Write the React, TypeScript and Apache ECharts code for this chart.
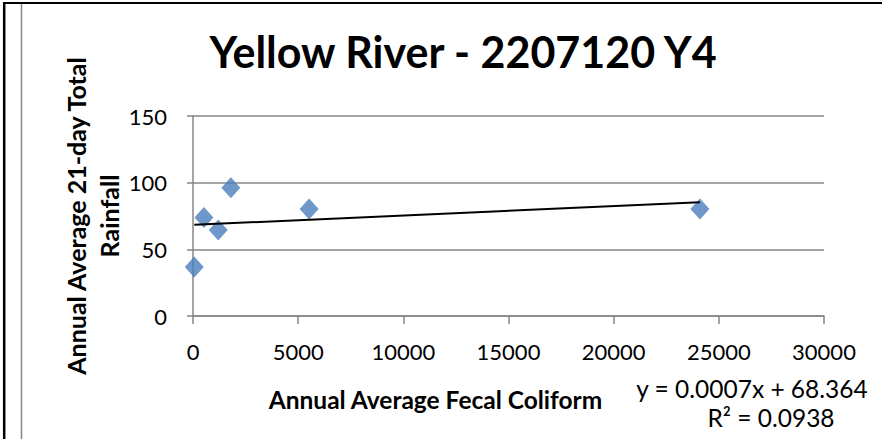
import React, { useEffect, useRef } from "react";
import * as echarts from "echarts";

const titleText = "Yellow River - 2207120 Y4";
const xAxisName = "Annual Average Fecal Coliform";
const yAxisName = "Annual Average 21-day Total\nRainfall";
const fecalColiform = [60, 520, 1200, 1800, 5520, 24100];
const rainfall = [36.7, 73.8, 64.5, 96.2, 80.2, 80.2];
const trendSlope = 0.0007;
const trendIntercept = 68.364;
const equationText = "y = 0.0007x + 68.364";
const r2Text = "R² = 0.0938";

const FONT = "Lato, 'Open Sans', sans-serif";

export default function App() {
  const ref = useRef<HTMLDivElement>(null);
  useEffect(() => {
    if (!ref.current) return;
    const chart = echarts.init(ref.current, undefined, { renderer: "svg" });
    const pts = fecalColiform.map((x, i) => [x, rainfall[i]]);
    const xMin = Math.min(...fecalColiform);
    const xMax = Math.max(...fecalColiform);
    const trend = [
      [xMin, trendSlope * xMin + trendIntercept],
      [xMax, trendSlope * xMax + trendIntercept],
    ];
    chart.setOption({
      animation: false,
      backgroundColor: "#ffffff",
      textStyle: { fontFamily: FONT },
      title: {
        text: titleText,
        left: 458,
        top: 25,
        textAlign: "center",
        textStyle: { fontFamily: FONT, fontSize: 43, fontWeight: "bold", color: "#000" },
      },
      grid: { left: 193, right: 58, top: 116, bottom: 123, containLabel: false },
      xAxis: {
        type: "value",
        min: 0,
        max: 30000,
        interval: 5000,
        name: xAxisName,
        nameLocation: "middle",
        nameGap: 71,
        nameMoveOverlap: false,
        nameTextStyle: {
          fontFamily: FONT,
          fontSize: 24.5,
          fontWeight: "bold",
          color: "#000",
          padding: [0, 146, 0, 0],
        },
        axisLine: { show: true, onZero: false, lineStyle: { color: "#868686", width: 1.5 } },
        axisTick: { show: true, length: 8, lineStyle: { color: "#868686", width: 1.5 } },
        axisLabel: { fontFamily: FONT, fontSize: 22, color: "#000", margin: 24, formatter: (v: number) => String(v) },
        splitLine: { show: false },
      },
      yAxis: {
        type: "value",
        min: 0,
        max: 150,
        interval: 50,
        name: yAxisName,
        nameLocation: "middle",
        nameRotate: 90,
        nameGap: 68,
        nameMoveOverlap: false,
        nameTextStyle: { fontFamily: FONT, fontSize: 25, fontWeight: "bold", color: "#000", lineHeight: 33 },
        axisLine: { show: true, lineStyle: { color: "#868686", width: 1.5 } },
        axisTick: { show: true, length: 6, lineStyle: { color: "#868686", width: 1.5 } },
        axisLabel: { fontFamily: FONT, fontSize: 22, color: "#000", margin: 26, formatter: (v: number) => String(v) },
        splitLine: { show: true, lineStyle: { color: "#868686", width: 1.5 } },
      },
      series: [
        {
          type: "scatter",
          data: pts,
          symbol: "diamond",
          symbolSize: [19, 21],
          itemStyle: { color: "#4A7EBB" },
          z: 3,
        },
        {
          type: "line",
          data: trend,
          symbol: "none",
          lineStyle: { color: "#000", width: 2 },
          z: 4,
        },
      ],
      graphic: [
        { type: "line", shape: { x1: 21.5, y1: 4, x2: 21.5, y2: 439 }, style: { stroke: "#868686", lineWidth: 1.5 }, z: 100 },
        { type: "line", shape: { x1: 3, y1: 3, x2: 882, y2: 3 }, style: { stroke: "#000", lineWidth: 2 }, z: 100 },
        { type: "line", shape: { x1: 4.2, y1: 2, x2: 4.2, y2: 439 }, style: { stroke: "#000", lineWidth: 2.5 }, z: 100 },
        {
          type: "text",
          x: 752,
          y: 388,
          style: { text: equationText, font: `24.5px ${FONT}`, fill: "#000", align: "center", verticalAlign: "middle" },
        },
        {
          type: "text",
          x: 771,
          y: 417,
          style: { text: r2Text, font: `24.5px ${FONT}`, fill: "#000", align: "center", verticalAlign: "middle" },
        },
      ],
    });
    return () => chart.dispose();
  }, []);
  return (
    <div style={{ position: "fixed", left: 0, top: 0, width: 882, height: 439, overflow: "hidden", background: "#fff" }}>
      <div ref={ref} style={{ position: "absolute", left: 0, top: 0, width: 882, height: 439 }} />
    </div>
  );
}
